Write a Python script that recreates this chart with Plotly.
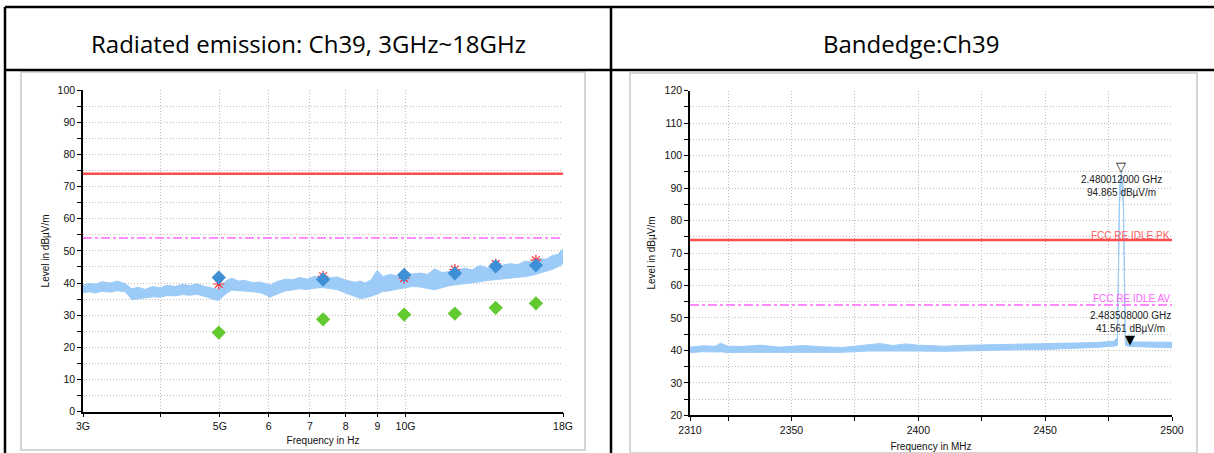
import plotly.graph_objects as go

W, H = 1214, 453

# ---- left chart: radiated emission 3GHz~18GHz ----
re_freq_ghz = [3.00, 3.07, 3.14, 3.22, 3.32, 3.41, 3.51, 3.56, 3.60, 3.69, 3.78, 3.89,
               4.00, 4.11, 4.23, 4.35, 4.47, 4.60, 4.73, 4.82, 4.91, 4.97, 5.04, 5.13,
               5.23, 5.36, 5.49, 5.65, 5.81, 5.92, 6.03, 6.20, 6.38, 6.56, 6.74, 6.93,
               7.13, 7.33, 7.54, 7.75, 7.97, 8.12, 8.28, 8.44, 8.60, 8.80, 8.99, 9.20,
               9.44, 9.70, 9.98, 10.25, 10.55, 10.85, 11.16, 11.48, 11.80, 12.14,
               12.48, 12.84, 13.20, 13.58, 13.96, 14.36, 14.77, 15.19, 15.62, 16.06,
               16.52, 16.90, 17.27, 17.65, 18.00]
re_level_hi = [39.3, 39.9, 39.6, 40.4, 40.0, 40.6, 39.8, 38.9, 38.2, 38.7, 38.0, 38.9,
               38.5, 39.3, 38.9, 39.6, 39.2, 39.8, 38.9, 38.6, 38.2, 38.0, 39.6, 40.8,
               41.5, 40.6, 40.8, 40.1, 40.3, 39.8, 39.4, 40.5, 41.2, 41.0, 41.7, 41.2,
               42.1, 41.4, 41.6, 41.9, 41.0, 40.6, 40.2, 40.6, 40.0, 41.0, 43.9, 42.0,
               42.7, 42.2, 43.6, 42.8, 43.1, 42.7, 44.4, 43.2, 43.7, 44.2, 44.6, 44.1,
               45.5, 44.6, 45.1, 45.6, 46.0, 45.7, 46.8, 46.5, 47.6, 47.4, 48.5, 48.9,
               50.5]
re_level_lo = [37.0, 37.3, 36.9, 37.4, 37.2, 37.6, 37.3, 36.0, 34.8, 35.0, 35.3, 35.7,
               35.6, 36.1, 36.0, 36.4, 36.2, 36.5, 35.8, 35.4, 34.8, 34.6, 35.5, 36.8,
               37.8, 37.6, 37.5, 37.3, 37.0, 36.4, 35.6, 36.6, 37.5, 37.8, 38.2, 38.0,
               38.4, 38.6, 38.3, 37.9, 37.0, 36.4, 35.8, 35.2, 35.4, 35.9, 36.6, 37.4,
               37.6, 38.1, 38.4, 38.9, 38.8, 38.3, 37.9, 38.6, 39.2, 39.4, 39.8, 40.1,
               40.4, 40.8, 41.0, 41.2, 41.4, 41.8, 42.0, 42.4, 43.0, 43.6, 44.2, 45.0,
               46.0]

final_freq_ghz = [4.98, 7.35, 9.95, 12.02, 14.0, 16.27]
final_peak = [41.7, 41.1, 42.5, 43.0, 45.2, 45.5]
final_qp = [39.7, 42.1, 41.5, 44.2, 45.9, 47.1]
final_avg = [24.6, 28.7, 30.2, 30.5, 32.3, 33.7]

re_limit_pk = 74
re_limit_av = 54
re_xticks = [3, 4, 5, 6, 7, 8, 9, 10, 18]
re_xticktext = ["3G", "", "5G", "6", "7", "8", "9", "10G", "18G"]

# ---- right chart: band edge ----
be_freq_mhz = [2310, 2315, 2320, 2322, 2325, 2330, 2338, 2345, 2355, 2362, 2370, 2380,
               2385, 2390, 2395, 2400, 2410, 2420, 2430, 2440, 2450, 2460, 2470, 2477,
               2478.5, 2479.3, 2480.0, 2480.8, 2481.6, 2483, 2490, 2500]
be_level_hi = [41.0, 41.4, 41.3, 42.2, 41.3, 41.2, 41.6, 41.0, 41.5, 41.1, 40.9, 41.6,
               42.1, 41.5, 42.0, 41.6, 41.3, 41.6, 41.8, 41.9, 42.0, 42.2, 42.4, 42.8,
               44.0, 90.0, 95.0, 90.0, 44.0, 42.6, 42.6, 42.5]
be_level_lo = [39.3, 39.6, 39.5, 39.6, 39.3, 39.4, 39.6, 39.5, 39.6, 39.4, 39.4, 39.8,
               39.9, 39.7, 39.8, 39.8, 39.7, 39.9, 40.0, 40.2, 40.3, 40.5, 40.9, 41.3,
               41.5, 85.0, 93.0, 85.0, 41.6, 41.2, 41.0, 40.8]

mk_freq_mhz = [2480.012, 2483.508]
mk_level = [94.865, 41.561]
mk_text = ["2.480012000 GHz<br>94.865 dBµV/m", "2.483508000 GHz<br>41.561 dBµV/m"]

be_limit_pk = 74
be_limit_av = 54
be_xticks = [2310, 2325, 2350, 2375, 2400, 2425, 2450, 2475, 2500]
be_xticktext = ["2310", "", "2350", "", "2400", "", "2450", "", "2500"]

TRACE = "#9ccbf7"
PK_RED = "#ff4d4d"
AV_MAG = "#ff66ff"
GRID = "#bdbdbd"
GRID_DASH = "1px,2px"
FONT = "Liberation Sans"


def px_x(p):
    return p / W


def px_y(p):
    return 1 - p / H


fig = go.Figure()

# left spectrum band
fig.add_trace(go.Scatter(x=re_freq_ghz + re_freq_ghz[::-1], y=re_level_hi + re_level_lo[::-1],
                         fill="toself", fillcolor=TRACE, mode="lines",
                         line=dict(color=TRACE, width=1), xaxis="x", yaxis="y"))
fig.add_trace(go.Scatter(x=[re_freq_ghz[0], re_freq_ghz[-1]], y=[re_limit_pk] * 2, mode="lines",
                         line=dict(color=PK_RED, width=2.5), xaxis="x", yaxis="y"))
fig.add_trace(go.Scatter(x=[re_freq_ghz[0], re_freq_ghz[-1]], y=[re_limit_av] * 2, mode="lines",
                         line=dict(color=AV_MAG, width=1.5, dash="dashdot"), xaxis="x", yaxis="y"))
fig.add_trace(go.Scatter(x=final_freq_ghz, y=final_qp, mode="markers",
                         marker=dict(symbol="asterisk-open", size=9, color="#ff2a2a",
                                     line=dict(color="#ff2a2a", width=1.2)),
                         xaxis="x", yaxis="y"))
fig.add_trace(go.Scatter(x=final_freq_ghz, y=final_peak, mode="markers",
                         marker=dict(symbol="diamond", size=11, color="#3d8fd6"), xaxis="x", yaxis="y"))
fig.add_trace(go.Scatter(x=final_freq_ghz, y=final_avg, mode="markers",
                         marker=dict(symbol="diamond", size=11, color="#62c92e"), xaxis="x", yaxis="y"))

# right spectrum band
fig.add_trace(go.Scatter(x=be_freq_mhz + be_freq_mhz[::-1], y=be_level_hi + be_level_lo[::-1],
                         fill="toself", fillcolor=TRACE, mode="lines",
                         line=dict(color=TRACE, width=1), xaxis="x2", yaxis="y2"))
fig.add_trace(go.Scatter(x=[be_freq_mhz[0], be_freq_mhz[-1]], y=[be_limit_pk] * 2, mode="lines",
                         line=dict(color=PK_RED, width=2.5), xaxis="x2", yaxis="y2"))
fig.add_trace(go.Scatter(x=[be_freq_mhz[0], be_freq_mhz[-1]], y=[be_limit_av] * 2, mode="lines",
                         line=dict(color=AV_MAG, width=1.5, dash="dashdot"), xaxis="x2", yaxis="y2"))

tickfont = dict(family=FONT, size=10.5, color="#111")
titlefont = dict(family=FONT, size=10, color="#111")


def main_axis(**kw):
    d = dict(showline=True, linecolor="black", linewidth=1.5, ticks="outside", ticklen=4,
             tickcolor="black", tickwidth=1.2, tickfont=tickfont, showgrid=True,
             gridcolor=GRID, griddash=GRID_DASH, gridwidth=1, zeroline=False, automargin=False)
    d.update(kw)
    return d


def tick_axis(**kw):
    d = dict(showline=False, ticks="inside", ticklen=4, tickcolor="black", tickwidth=1.2,
             showticklabels=False, showgrid=False, zeroline=False, automargin=False)
    d.update(kw)
    return d


def minor_ticks(side, grid):
    m = dict(dtick=5, ticks=side, ticklen=4, tickcolor="black", showgrid=grid)
    if grid:
        m.update(gridcolor=GRID, griddash=GRID_DASH)
    return m


left_dom = [px_x(83), px_x(563)]
left_ydom = [px_y(411.7), px_y(90)]
right_dom = [px_x(690), px_x(1172)]
right_ydom = [px_y(415.3), px_y(90.7)]

fig.update_layout(
    width=W, height=H, margin=dict(l=0, r=0, t=0, b=0, pad=0), autosize=False,
    paper_bgcolor="white", plot_bgcolor="rgba(0,0,0,0)", showlegend=False,
    xaxis=main_axis(domain=left_dom, anchor="y", type="log", range=[0.47712, 1.25527],
                    tickmode="array", tickvals=re_xticks, ticktext=re_xticktext,
                    title=dict(text="Frequency in Hz", font=titlefont, standoff=6)),
    yaxis=main_axis(domain=left_ydom, anchor="x", range=[0, 100], dtick=10,
                    minor=minor_ticks("outside", True),
                    title=dict(text="Level in dBµV/m", font=titlefont, standoff=6)),
    xaxis3=tick_axis(domain=left_dom, anchor="y", overlaying="x", type="log", range=[0.47712, 1.25527],
                     tickmode="array", tickvals=re_xticks),
    yaxis3=tick_axis(domain=left_ydom, anchor="x", overlaying="y", range=[0, 100], dtick=10,
                     minor=minor_ticks("inside", False)),
    xaxis2=main_axis(domain=right_dom, anchor="y2", range=[2310, 2500],
                     tickmode="array", tickvals=be_xticks, ticktext=be_xticktext,
                     title=dict(text="Frequency in MHz", font=titlefont, standoff=8)),
    yaxis2=main_axis(domain=right_ydom, anchor="x2", range=[20, 120], dtick=10,
                     minor=minor_ticks("outside", True),
                     title=dict(text="Level in dBµV/m", font=titlefont, standoff=7)),
    xaxis4=tick_axis(domain=right_dom, anchor="y2", overlaying="x2", range=[2310, 2500],
                     tickmode="array", tickvals=be_xticks),
    yaxis4=tick_axis(domain=right_ydom, anchor="x2", overlaying="y2", range=[20, 120], dtick=10,
                     minor=minor_ticks("inside", False)),
)

shapes = []
# table grid
for x0, y0, x1, y1 in [(5, 7, W, 7), (5, 70, W, 70), (5, 7, 5, H), (611, 7, 611, H)]:
    shapes.append(dict(type="line", xref="paper", yref="paper", x0=px_x(x0), x1=px_x(x1),
                       y0=px_y(y0), y1=px_y(y1), line=dict(color="black", width=2.5)))
# picture frames
for x0, y0, x1, y1 in [(21, 72, 585, 450), (630, 73, 1197, 453)]:
    shapes.append(dict(type="rect", xref="paper", yref="paper", x0=px_x(x0), x1=px_x(x1),
                       y0=px_y(y1), y1=px_y(y0), line=dict(color="#d6d6d6", width=2), layer="below"))
fig.update_layout(shapes=shapes)

head_font = dict(family="Open Sans", size=24, color="black")
ann = [
    dict(text="Radiated emission: Ch39, 3GHz~18GHz", x=px_x(308), y=px_y(43), xref="paper", yref="paper",
         xanchor="center", yanchor="middle", showarrow=False, font=head_font),
    dict(text="Bandedge:Ch39", x=px_x(911), y=px_y(43), xref="paper", yref="paper",
         xanchor="center", yanchor="middle", showarrow=False, font=head_font),
    dict(text="FCC RE_PK", x=re_freq_ghz[-1], y=re_limit_pk, xref="x", yref="y", xanchor="right",
         yanchor="bottom", yshift=1, showarrow=False, font=dict(family=FONT, size=10, color="#ff6060")),
    dict(text="FCC RE_AV", x=re_freq_ghz[-1], y=re_limit_av, xref="x", yref="y", xanchor="right",
         yanchor="bottom", yshift=1, showarrow=False, font=dict(family=FONT, size=10, color=AV_MAG)),
    dict(text="FCC RE IDLE PK", x=be_freq_mhz[-1], y=be_limit_pk, xref="x2", yref="y2", xanchor="right",
         yanchor="bottom", yshift=-3, showarrow=False, font=dict(family=FONT, size=10, color="#ff6060")),
    dict(text="FCC RE IDLE AV", x=be_freq_mhz[-1], y=be_limit_av, xref="x2", yref="y2", xanchor="right",
         yanchor="bottom", yshift=-1, showarrow=False, font=dict(family=FONT, size=10, color=AV_MAG)),
    # spectrum analyser markers (tip on the data point)
    dict(text="▽", x=mk_freq_mhz[0], y=mk_level[0], xref="x2", yref="y2", xanchor="center",
         yanchor="bottom", yshift=-4, showarrow=False,
         font=dict(family="DejaVu Sans", size=13, color="black")),
    dict(text="▼", x=mk_freq_mhz[1], y=mk_level[1], xref="x2", yref="y2", xanchor="center",
         yanchor="bottom", yshift=-4, showarrow=False,
         font=dict(family="DejaVu Sans", size=13, color="black")),
    dict(text=mk_text[0], x=mk_freq_mhz[0], y=mk_level[0], xref="x2", yref="y2", xanchor="center",
         yanchor="top", yshift=0, showarrow=False, font=dict(family=FONT, size=10, color="#222")),
    dict(text=mk_text[1], x=mk_freq_mhz[1], y=mk_level[1], xref="x2", yref="y2", xanchor="center",
         yanchor="bottom", yshift=9, showarrow=False, font=dict(family=FONT, size=10, color="#222")),
]
fig.update_layout(annotations=ann)

# the page body has a default 8px margin; drop it so the figure sits at the window origin
fig.write_html("out.html", config={"displayModeBar": False},
               post_script="document.body.style.margin='0';")
